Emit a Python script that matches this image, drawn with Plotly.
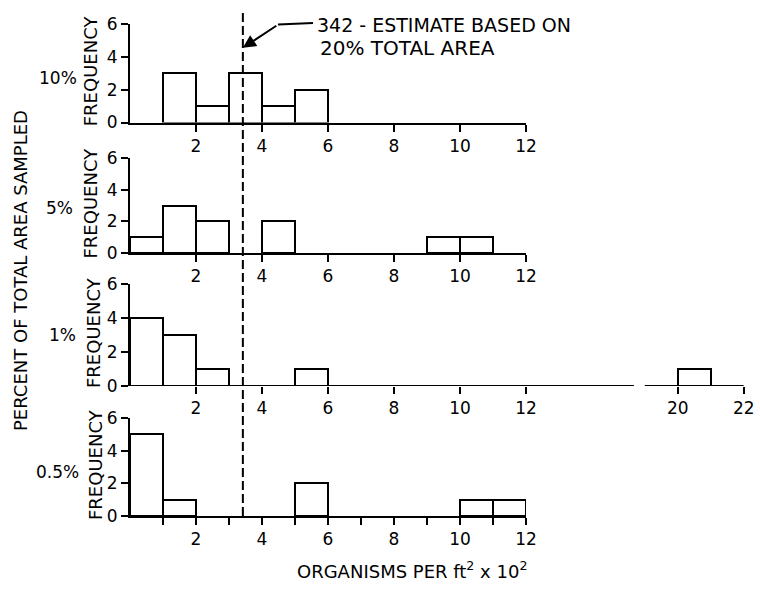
import plotly.graph_objects as go

# ---------------- data ----------------
estimate_value = 3.42  # 342 organisms per ft^2 (x 10^2)

bins_10 = [1, 2, 3, 4, 5]
freq_10 = [3, 1, 3, 1, 2]

bins_5 = [0, 1, 2, 4, 9, 10]
freq_5 = [1, 3, 2, 2, 1, 1]

bins_1 = [0, 1, 2, 5, 20]
freq_1 = [4, 3, 1, 1, 1]

bins_05 = [0, 1, 5, 10, 11]
freq_05 = [5, 1, 2, 1, 1]

panel_labels = ["10%", "5%", "1%", "0.5%"]
x_ticks_main = [2, 4, 6, 8, 10, 12]
x_ticks_1pct = [2, 4, 6, 8, 10, 12, 20, 22]
x_ticks_minor = list(range(1, 13))
y_ticks = [0, 2, 4, 6]

# broken axis in the 1% panel: values from 20 up are shifted left
BREAK_FROM, BREAK_SHIFT = 16, 3.4
def brk(v):
    return v - BREAK_SHIFT if v >= BREAK_FROM else v

# ---------------- layout geometry (pixels) ----------------
W, H = 760, 592
FONT = "DejaVu Sans"
X0, PPU = 130, 33.0
def px_x(p): return p / W
def px_y(p): return 1 - p / H

panels_y = [(24, 122.5), (158, 253), (284, 386), (418, 516)]

fig = go.Figure()

def add_hist(bins, freqs, idx, mapper=lambda v: v):
    xs = [mapper(b) + 0.5 for b in bins]
    fig.add_trace(go.Bar(
        x=xs, y=freqs, width=[1] * len(xs),
        marker=dict(color="white", line=dict(color="black", width=2)),
        xaxis="x" if idx == 1 else f"x{idx}",
        yaxis="y" if idx == 1 else f"y{idx}",
        hoverinfo="skip",
    ))

add_hist(bins_10, freq_10, 1)
add_hist(bins_5, freq_5, 2)
add_hist(bins_1, freq_1, 3, brk)
add_hist(bins_05, freq_05, 4)

tickfont = dict(family=FONT, size=17, color="black")
common_x = dict(showgrid=False, zeroline=False, ticks="outside", ticklen=7,
                tickwidth=2, tickcolor="black", linecolor="black", linewidth=2,
                tickfont=tickfont, fixedrange=True, automargin=False)
common_y = dict(showgrid=False, zeroline=False, ticks="outside", ticklen=7,
                tickwidth=2, tickcolor="black", linecolor="black", linewidth=2,
                showline=True, tickfont=tickfont, range=[0, 6],
                tickvals=y_ticks, fixedrange=True, automargin=False)

layout = dict(
    width=W, height=H, margin=dict(l=0, r=0, t=0, b=0, pad=0, autoexpand=False),
    paper_bgcolor="white", plot_bgcolor="rgba(0,0,0,0)",
    showlegend=False, bargap=0,
)
main_dom = [px_x(X0), px_x(X0 + 12 * PPU)]
wide_end = brk(22)
wide_dom = [px_x(X0), px_x(X0 + wide_end * PPU)]

for i, (top, bot) in enumerate(panels_y, start=1):
    xk = "xaxis" if i == 1 else f"xaxis{i}"
    yk = "yaxis" if i == 1 else f"yaxis{i}"
    xa = dict(common_x)
    if i == 3:
        xa.update(domain=wide_dom, range=[0, wide_end], showline=False,
                  tickvals=[brk(v) for v in x_ticks_1pct],
                  ticktext=[str(v) for v in x_ticks_1pct])
    elif i == 4:
        xa.update(domain=main_dom, range=[0, 12], showline=True,
                  tickvals=x_ticks_minor,
                  ticktext=[str(v) if v in x_ticks_main else " " for v in x_ticks_minor])
    else:
        xa.update(domain=main_dom, range=[0, 12], showline=True,
                  tickvals=x_ticks_main, ticktext=[str(v) for v in x_ticks_main])
    xa["anchor"] = "y" if i == 1 else f"y{i}"
    ya = dict(common_y)
    ya.update(domain=[px_y(bot), px_y(top)], anchor="x" if i == 1 else f"x{i}")
    layout[xk] = xa
    layout[yk] = ya

fig.update_layout(**layout)

# broken baseline of the 1% panel
for a, b in [(0, 15.27), (15.6, wide_end)]:
    fig.add_shape(type="line", xref="x3", yref="y3", x0=a, x1=b, y0=0, y1=0,
                  line=dict(color="black", width=2))

# dashed estimate line through all panels
fig.add_shape(type="line", xref="x", yref="paper", x0=estimate_value, x1=estimate_value,
              y0=px_y(13), y1=px_y(516), line=dict(color="black", width=2, dash="9px,4px"))

# arrow + leader
fig.add_shape(type="line", xref="paper", yref="paper", x0=px_x(278), x1=px_x(313),
              y0=px_y(24.5), y1=px_y(23), line=dict(color="black", width=2))
fig.add_annotation(xref="x", yref="y", x=estimate_value, y=4.55, ax=35, ay=-23,
                   text="", showarrow=True, arrowhead=2, arrowsize=1.3,
                   arrowwidth=2, arrowcolor="black")
fig.add_annotation(xref="paper", yref="paper", x=px_x(315), y=px_y(25),
                   xanchor="left", yanchor="middle", showarrow=False,
                   text="342 - ESTIMATE BASED ON",
                   font=dict(family=FONT, size=19, color="black"))
fig.add_annotation(xref="paper", yref="paper", x=px_x(318), y=px_y(47.5),
                   xanchor="left", yanchor="middle", showarrow=False,
                   text="20% TOTAL AREA",
                   font=dict(family=FONT, size=20, color="black"))

# panel labels and FREQUENCY titles
label_pos = [(58, 78), (59, 208), (62, 335), (57, 472)]
freq_x = [90, 90, 93, 95]
for i, (top, bot) in enumerate(panels_y):
    lx, ly = label_pos[i]
    fig.add_annotation(xref="paper", yref="paper", x=px_x(lx), y=px_y(ly),
                       xanchor="center", yanchor="middle", showarrow=False,
                       text=panel_labels[i],
                       font=dict(family=FONT, size=17, color="black"))
    fig.add_annotation(xref="paper", yref="paper", x=px_x(freq_x[i]),
                       y=px_y((top + bot) / 2 - 2),
                       xanchor="center", yanchor="middle", showarrow=False,
                       textangle=-90, text="FREQUENCY",
                       font=dict(family=FONT, size=18, color="black"))

fig.add_annotation(xref="paper", yref="paper", x=px_x(20), y=px_y(271),
                   xanchor="center", yanchor="middle", showarrow=False,
                   textangle=-90, text="PERCENT OF TOTAL AREA SAMPLED",
                   font=dict(family=FONT, size=18, color="black"))
fig.add_annotation(xref="paper", yref="paper", x=px_x(412), y=px_y(570),
                   xanchor="center", yanchor="middle", showarrow=False,
                   text="ORGANISMS PER ft<sup>2</sup> x 10<sup>2</sup>",
                   font=dict(family=FONT, size=18, color="black"))

fig.write_html("out.html")
